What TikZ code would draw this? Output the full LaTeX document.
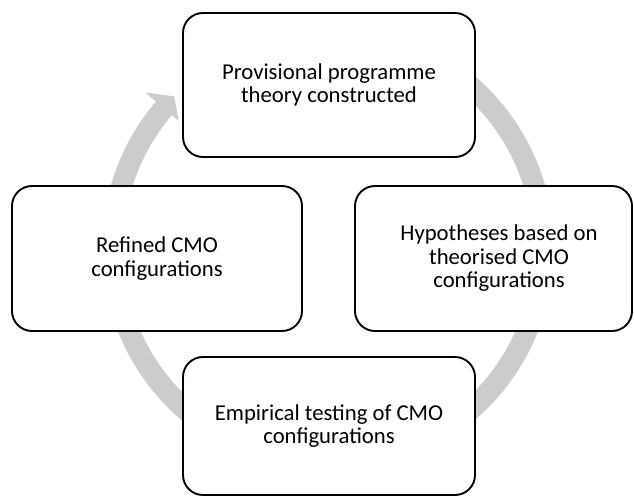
\documentclass[tikz,border=0pt]{standalone}
\usepackage{fontspec}
\setmainfont{Carlito}
\usetikzlibrary{calc}
\definecolor{ringgray}{RGB}{204,204,204}
\begin{document}
\begin{tikzpicture}[x=1pt,y=1pt,
  cbox/.style={draw=black, line width=1.9pt, rounded corners=20pt, fill=white,
    align=center, inner sep=0pt, font=\fontsize{22.7}{23.5}\selectfont},
  ring/.style={fill=ringgray}
]
\useasboundingbox (0,0) rectangle (634,-497);
\coordinate (C) at (328,-248);
% continuous cycle ring with arrowhead
\fill[ring] ($(C)+(118:226pt)$) arc[start angle=118, end angle=-220.4, radius=226pt]
  -- ($(C)+(-220.4:240pt)$) -- ($(C)+(-224.6:216pt)$) -- ($(C)+(-220.4:196pt)$)
  -- ($(C)+(-220.4:205pt)$) arc[start angle=-220.4, end angle=118, radius=205pt] -- cycle;
\node[cbox, minimum width=292pt, minimum height=144pt] (top) at (329,-85)
  {Provisional programme\\theory constructed};
\node[cbox, minimum width=277pt, minimum height=145pt] (hyp) at (493.5,-258.5)
  {\hspace*{11pt}Hypotheses based on\\\hspace*{11pt}theorised CMO\\\hspace*{11pt}configurations};
\node[cbox, minimum width=292pt, minimum height=138pt] (emp) at (329,-426)
  {Empirical testing of CMO\\configurations};
\node[cbox, minimum width=290pt, minimum height=145pt] (ref) at (157,-258.5)
  {Refined CMO\\configurations};
\end{tikzpicture}
\end{document}
